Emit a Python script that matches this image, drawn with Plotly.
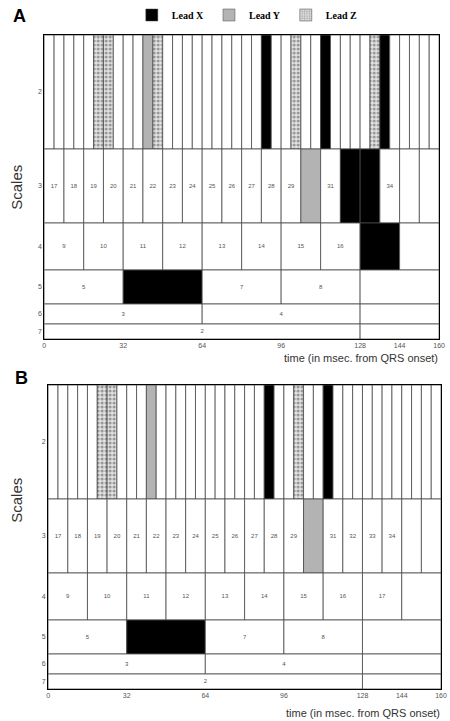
import plotly.graph_objects as go

W, H = 450, 721

# ---------------- data ----------------
SCALES = [2, 3, 4, 5, 6, 7]
X_TICKS = [0, 32, 64, 96, 128, 144, 160]
T_MAX = 160

# numbered cells (labels printed inside the cells)
A_LABELS = {3: list(range(17, 30)) + [31, 34],
            4: list(range(9, 17)),
            5: [5, 7, 8],
            6: [3, 4],
            7: [2]}
B_LABELS = {3: list(range(17, 30)) + [31, 32, 33, 34],
            4: list(range(9, 18)),
            5: [5, 7, 8],
            6: [3, 4],
            7: [2]}

# active cells (cell numbers) per lead and scale
A_LEAD_X = {2: [55, 61, 67], 3: [32, 33], 4: [17], 5: [6]}
A_LEAD_Y = {2: [43], 3: [30]}
A_LEAD_Z = {2: [38, 39, 44, 58, 66]}

B_LEAD_X = {2: [55, 61], 5: [6]}
B_LEAD_Y = {2: [43], 3: [30]}
B_LEAD_Z = {2: [38, 39, 58]}

# ---------------- layout constants ----------------
ROW_HEIGHT = {2: 114, 3: 74, 4: 47, 5: 34, 6: 20, 7: 15}
ROW_BASE = {}
acc = 0
for s in reversed(SCALES):
    ROW_BASE[s] = acc
    acc += ROW_HEIGHT[s]
Y_TOP = acc

COL_X = "#000000"
COL_Y = "#b3b3b3"
COL_Z = "#e4e4e4"
COL_EMPTY = "#ffffff"
EDGE = "#4a4a4a"


def cells(scale):
    """cell numbers, starts and ends covering 0..T_MAX at a given scale"""
    w = 2 ** scale
    first = 2 ** (7 - scale) + 1
    out = []
    k = 0
    while k * w < T_MAX:
        s = k * w
        e = min(s + w, T_MAX)
        out.append((first + k, s, e))
        k += 1
    return out


fig = go.Figure()


def add_panel(xa, ya, labels, lx, ly, lz):
    for sc in SCALES:
        cs = cells(sc)
        xs, ws, cols, pats = [], [], [], []
        for (n, s, e) in cs:
            xs.append((s + e) / 2)
            ws.append(e - s)
            if n in lx.get(sc, []):
                cols.append(COL_X); pats.append("")
            elif n in ly.get(sc, []):
                cols.append(COL_Y); pats.append("")
            elif n in lz.get(sc, []):
                cols.append(COL_Z); pats.append(".")
            else:
                cols.append(COL_EMPTY); pats.append("")
        fig.add_trace(go.Bar(
            x=xs, y=[ROW_HEIGHT[sc]] * len(xs), base=[ROW_BASE[sc]] * len(xs),
            width=ws, xaxis=xa, yaxis=ya, showlegend=False, hoverinfo="skip",
            marker=dict(color=cols, line=dict(color=EDGE, width=0.8),
                        pattern=dict(shape=pats, fgcolor="#707070", size=4,
                                     solidity=0.45, fillmode="overlay")),
        ))
        # labels
        lab = labels.get(sc, [])
        tx, ty, tt = [], [], []
        for (n, s, e) in cs:
            if n in lab:
                tx.append((s + e) / 2)
                ty.append(ROW_BASE[sc] + ROW_HEIGHT[sc] / 2)
                tt.append(str(n))
        if tx:
            fig.add_trace(go.Scatter(
                x=tx, y=ty, text=tt, mode="text", xaxis=xa, yaxis=ya,
                showlegend=False, hoverinfo="skip",
                textfont=dict(size=6, color="#555", family="Liberation Sans")))


add_panel("x", "y", A_LABELS, A_LEAD_X, A_LEAD_Y, A_LEAD_Z)
add_panel("x2", "y2", B_LABELS, B_LEAD_X, B_LEAD_Y, B_LEAD_Z)

# legend entries
for name, col, pat in [("Lead X", COL_X, ""), ("Lead Y", COL_Y, ""), ("Lead Z", COL_Z, ".")]:
    fig.add_trace(go.Bar(
        x=[None], y=[None], name="<b>" + name + "</b>", xaxis="x", yaxis="y",
        marker=dict(color=col, line=dict(color=EDGE, width=0.5),
                    pattern=dict(shape=pat, fgcolor="#707070", size=3,
                                 solidity=0.45, fillmode="overlay")),
    ))


def px_y(p):
    return 1 - p / H


def px_x(p):
    return p / W


row_centers = [ROW_BASE[s] + ROW_HEIGHT[s] / 2 for s in SCALES]
row_text = [str(s) for s in SCALES]

xax = dict(range=[0, T_MAX], tickvals=X_TICKS, ticktext=[str(t) for t in X_TICKS],
           showgrid=False, zeroline=False, showline=True, mirror=True,
           linecolor="#000", linewidth=1, ticks="", ticklen=0,
           ticklabeloverflow="allow",
           tickfont=dict(size=7, color="#555", family="Liberation Sans"))
yax = dict(range=[0, Y_TOP], tickvals=row_centers, ticktext=row_text,
           showgrid=False, zeroline=False, showline=True, mirror=True,
           linecolor="#000", linewidth=1, ticks="",
           tickfont=dict(size=7, color="#555", family="Liberation Sans"))

fig.update_layout(
    width=W, height=H,
    margin=dict(l=0, r=0, t=0, b=0),
    paper_bgcolor="white", plot_bgcolor="white",
    barmode="overlay",
    xaxis=dict(xax, domain=[px_x(43), px_x(445)], anchor="y"),
    yaxis=dict(yax, domain=[px_y(339), px_y(35)], anchor="x"),
    xaxis2=dict(xax, domain=[px_x(47), px_x(447)], anchor="y2"),
    yaxis2=dict(yax, domain=[px_y(689), px_y(385)], anchor="x2"),
    legend=dict(orientation="h", x=0.555, xanchor="center", y=px_y(15), yanchor="middle",
                font=dict(family="Liberation Serif", size=10, color="#000"),
                itemwidth=30, bgcolor="rgba(0,0,0,0)", tracegroupgap=0),
    annotations=[
        dict(text="<b>A</b>", x=px_x(9), y=px_y(16), xref="paper", yref="paper",
             xanchor="left", yanchor="middle", showarrow=False,
             font=dict(size=18, family="Liberation Sans", color="#000")),
        dict(text="<b>B</b>", x=px_x(11), y=px_y(378), xref="paper", yref="paper",
             xanchor="left", yanchor="middle", showarrow=False,
             font=dict(size=18, family="Liberation Sans", color="#000")),
        dict(text="Scales", x=px_x(14), y=px_y(187), xref="paper", yref="paper",
             textangle=-90, xanchor="center", yanchor="middle", showarrow=False,
             font=dict(size=15, family="Liberation Sans", color="#333")),
        dict(text="Scales", x=px_x(14), y=px_y(500), xref="paper", yref="paper",
             textangle=-90, xanchor="center", yanchor="middle", showarrow=False,
             font=dict(size=15, family="Liberation Sans", color="#333")),
        dict(text="time (in msec. from QRS onset)", x=px_x(446), y=px_y(358),
             xref="paper", yref="paper", xanchor="right", yanchor="middle",
             showarrow=False, font=dict(size=11, family="Liberation Sans", color="#333")),
        dict(text="time (in msec. from QRS onset)", x=px_x(448), y=px_y(713),
             xref="paper", yref="paper", xanchor="right", yanchor="middle",
             showarrow=False, font=dict(size=11, family="Liberation Sans", color="#333")),
    ],
)

fig.write_html("out.html", config={"displayModeBar": False},
               post_script="document.body.style.margin='0';document.body.style.overflow='hidden';")
